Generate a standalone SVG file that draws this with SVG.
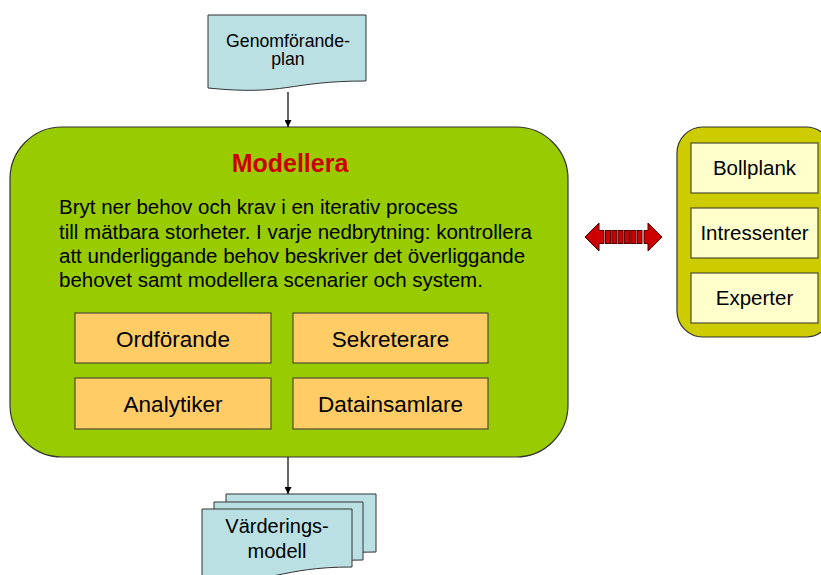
<svg xmlns="http://www.w3.org/2000/svg" width="821" height="575" viewBox="0 0 821 575">
  <style>
    text { font-family: "Liberation Sans", Arial, sans-serif; fill: #000; }
    .doc { fill: #BBE0E3; stroke: #333; stroke-width: 1; }
    .role { fill: #FFCC66; stroke: #4d4d33; stroke-width: 1.2; }
    .src { fill: #FFFFCC; stroke: #4d4d33; stroke-width: 1.2; }
    .conn { stroke: #000; stroke-width: 1.2; fill: none; }
    .mid { text-anchor: middle; }
  </style>
  <defs>
    <marker id="arrow" viewBox="0 0 10 10" refX="10" refY="5" markerWidth="7" markerHeight="7" orient="auto" markerUnits="userSpaceOnUse">
      <path d="M0,0 L10,5 L0,10 Z" fill="#000"/>
    </marker>
  </defs>

  <!-- input document -->
  <g id="genomforandeplan">
    <path class="doc" d="M208,15 H366 V81 C287,81 287,96 208,88 Z"/>
    <text class="mid" x="288" y="46.5" font-size="17.7">Genomförande-</text>
    <text class="mid" x="288" y="65" font-size="17.7">plan</text>
  </g>

  <!-- main process -->
  <g id="modellera">
    <rect x="10" y="127" width="558" height="330" rx="52" ry="52" fill="#99CC00" stroke="#333" stroke-width="1.2"/>
    <text class="mid" x="290" y="171.5" font-size="25" font-weight="bold" style="fill:#CC0000">Modellera</text>
    <g font-size="20.5">
      <text x="59" y="214">Bryt ner behov och krav i en iterativ process</text>
      <text x="59" y="238.5">till mätbara storheter. I varje nedbrytning: kontrollera</text>
      <text x="59" y="262.5">att underliggande behov beskriver det överliggande</text>
      <text x="59" y="287">behovet samt modellera scenarier och system.</text>
    </g>
  </g>

  <g id="ordforande">
    <rect class="role" x="75" y="313" width="196" height="50"/>
    <text class="mid" x="173" y="346.5" font-size="22.5">Ordförande</text>
  </g>
  <g id="sekreterare">
    <rect class="role" x="293" y="313" width="195" height="50"/>
    <text class="mid" x="390.5" y="346.5" font-size="22.5">Sekreterare</text>
  </g>
  <g id="analytiker">
    <rect class="role" x="75" y="378" width="196" height="51"/>
    <text class="mid" x="173" y="411.5" font-size="22.5">Analytiker</text>
  </g>
  <g id="datainsamlare">
    <rect class="role" x="293" y="378" width="195" height="51"/>
    <text class="mid" x="390.5" y="411.5" font-size="22.5">Datainsamlare</text>
  </g>

  <!-- external sources -->
  <g id="kallor">
    <rect x="677" y="127" width="155" height="210" rx="26" ry="26" fill="#CCCC00" stroke="#333" stroke-width="1.2"/>
  </g>
  <g id="bollplank">
    <rect class="src" x="691" y="143" width="127" height="50"/>
    <text class="mid" x="754.5" y="175" font-size="20.5">Bollplank</text>
  </g>
  <g id="intressenter">
    <rect class="src" x="691" y="208" width="127" height="50"/>
    <text class="mid" x="754.5" y="240" font-size="20.5">Intressenter</text>
  </g>
  <g id="experter">
    <rect class="src" x="691" y="273" width="127" height="50"/>
    <text class="mid" x="754.5" y="305" font-size="20.5">Experter</text>
  </g>

  <!-- output documents (stack) -->
  <g id="varderingsmodell">
    <path class="doc" d="M226,494 H376 V552 C301,552 301,568 226,562 Z"/>
    <path class="doc" d="M214,502 H363 V560 C288,560 288,576 214,570 Z"/>
    <path class="doc" d="M202,509 H352 V567 C277,567 277,585 202,578 Z"/>
    <text class="mid" x="277" y="533" font-size="20">Värderings-</text>
    <text class="mid" x="277" y="558" font-size="20">modell</text>
  </g>

  <!-- connectors -->
  <g id="connectors">
    <line class="conn" x1="288" y1="92" x2="288" y2="127" marker-end="url(#arrow)"/>
    <line class="conn" x1="288" y1="457" x2="288" y2="494" marker-end="url(#arrow)"/>
    <g id="utbyte" fill="#CC0000" stroke="#4a0000" stroke-width="1">
      <path d="M585,237 L599,223 V230.5 H604 V243.5 H599 V251 Z"/>
      <path d="M662,237 L648,223 V230.5 H644 V243.5 H648 V251 Z"/>
      <rect x="605.5" y="230.5" width="5" height="13"/>
      <rect x="611.8" y="230.5" width="5" height="13"/>
      <rect x="618.1" y="230.5" width="5" height="13"/>
      <rect x="624.4" y="230.5" width="5" height="13"/>
      <rect x="630.7" y="230.5" width="5" height="13"/>
      <rect x="637" y="230.5" width="5" height="13"/>
    </g>
  </g>
</svg>
